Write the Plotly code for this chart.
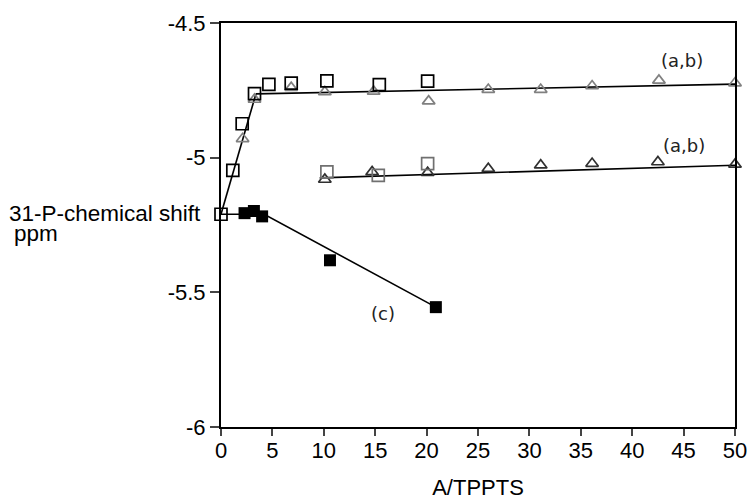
import plotly.graph_objects as go

# Series (a,b) upper branch - open squares (black)
up_sq_x = [0.0, 1.15, 2.06, 3.26, 4.66, 6.83, 10.3, 15.4, 20.1]
up_sq_y = [-5.21, -5.047, -4.874, -4.762, -4.728, -4.723, -4.715, -4.729, -4.716]
# upper branch - open triangles (gray)
up_tr_x = [2.1, 3.26, 6.83, 10.1, 14.85, 20.2, 26.0, 31.1, 36.1, 42.6, 50.0]
up_tr_y = [-4.93, -4.784, -4.74, -4.756, -4.754, -4.79, -4.747, -4.747, -4.734, -4.713, -4.723]
# middle branch - open squares (gray)
mid_sq_x = [10.3, 15.3, 20.1]
mid_sq_y = [-5.053, -5.066, -5.022]
# middle branch - open triangles (dark)
mid_tr_x = [10.1, 14.7, 20.1, 26.0, 31.1, 36.1, 42.5, 50.0]
mid_tr_y = [-5.081, -5.053, -5.056, -5.041, -5.028, -5.022, -5.016, -5.025]
# series (c) - filled squares
c_x = [2.29, 3.2, 4.0, 10.6, 20.9]
c_y = [-5.206, -5.198, -5.218, -5.381, -5.555]

# fitted lines
fit_steep_x = [0.0, 3.4]
fit_steep_y = [-5.21, -4.763]
fit_top_x = [3.4, 50.0]
fit_top_y = [-4.763, -4.727]
fit_mid_x = [9.6, 50.0]
fit_mid_y = [-5.075, -5.028]
fit_c_x = [0.0, 4.2, 20.9]
fit_c_y = [-5.21, -5.21, -5.555]

x_ticks = [0, 5, 10, 15, 20, 25, 30, 35, 40, 45, 50]
y_ticks = [-4.5, -5, -5.5, -6]
y_tick_text = ["-4.5", "-5", "-5.5", "-6"]

fig = go.Figure()
line_style = dict(color="black", width=1.6)
for lx, ly in [(fit_steep_x, fit_steep_y), (fit_top_x, fit_top_y),
               (fit_mid_x, fit_mid_y), (fit_c_x, fit_c_y)]:
    fig.add_trace(go.Scatter(x=lx, y=ly, mode="lines", line=line_style,
                             showlegend=False, hoverinfo="skip"))

fig.add_trace(go.Scatter(x=up_tr_x, y=up_tr_y, mode="markers", cliponaxis=False,
                         marker=dict(symbol="triangle-up-open", size=11,
                                     color="#808080", line=dict(width=1.7, color="#808080")),
                         showlegend=False))
fig.add_trace(go.Scatter(x=mid_tr_x, y=mid_tr_y, mode="markers", cliponaxis=False,
                         marker=dict(symbol="triangle-up-open", size=11,
                                     color="#303030", line=dict(width=1.7, color="#303030")),
                         showlegend=False))
fig.add_trace(go.Scatter(x=mid_sq_x, y=mid_sq_y, mode="markers", cliponaxis=False,
                         marker=dict(symbol="square-open", size=12,
                                     color="#707070", line=dict(width=1.7, color="#707070")),
                         showlegend=False))
fig.add_trace(go.Scatter(x=up_sq_x, y=up_sq_y, mode="markers", cliponaxis=False,
                         marker=dict(symbol="square-open", size=12,
                                     color="black", line=dict(width=1.7, color="black")),
                         showlegend=False))
fig.add_trace(go.Scatter(x=c_x, y=c_y, mode="markers", cliponaxis=False,
                         marker=dict(symbol="square", size=12, color="black"),
                         showlegend=False))

fig.add_annotation(x=44.8, y=-4.638, text="(a,b)", showarrow=False,
                   font=dict(family="DejaVu Sans", size=18, color="#222"))
fig.add_annotation(x=45.0, y=-4.954, text="(a,b)", showarrow=False,
                   font=dict(family="DejaVu Sans", size=18, color="#222"))
fig.add_annotation(x=15.75, y=-5.579, text="(c)", showarrow=False,
                   font=dict(family="DejaVu Sans", size=18, color="#222"))

fig.add_annotation(xref="paper", x=0, xshift=-214, xanchor="left", y=-5.208, yanchor="middle",
                   text="31-P-chemical shift", showarrow=False,
                   font=dict(family="Liberation Sans", size=22.5, color="black"))
fig.add_annotation(xref="paper", x=0, xshift=-209, xanchor="left", y=-5.28, yanchor="middle",
                   text="ppm", showarrow=False,
                   font=dict(family="Liberation Sans", size=22.5, color="black"))

fig.update_layout(
    width=749, height=500,
    margin=dict(l=221, r=14, t=23, b=73, autoexpand=False),
    plot_bgcolor="white", paper_bgcolor="white",
    font=dict(family="Liberation Sans", size=22, color="black"),
)
fig.update_xaxes(range=[0, 50], tickvals=x_ticks, ticks="outside", ticklen=7, tickwidth=1.6,
                 showline=True, linewidth=2, linecolor="black", mirror=True,
                 showgrid=False, zeroline=False, tickfont=dict(size=22),
                 ticklabelstandoff=-4,
                 title=dict(text="A/TPPTS", font=dict(size=22), standoff=24))
fig.update_yaxes(range=[-6, -4.5], tickvals=y_ticks, ticktext=y_tick_text, ticks="outside",
                 ticklen=9, tickwidth=1.6, tickfont=dict(size=22),
                 showline=True, linewidth=2, linecolor="black", mirror=True,
                 showgrid=False, zeroline=False)

fig.write_html("out.html", config={"displayModeBar": False},
               post_script="document.body.style.margin='0';document.body.style.padding='0';"
                           "document.body.style.overflow='hidden';")
